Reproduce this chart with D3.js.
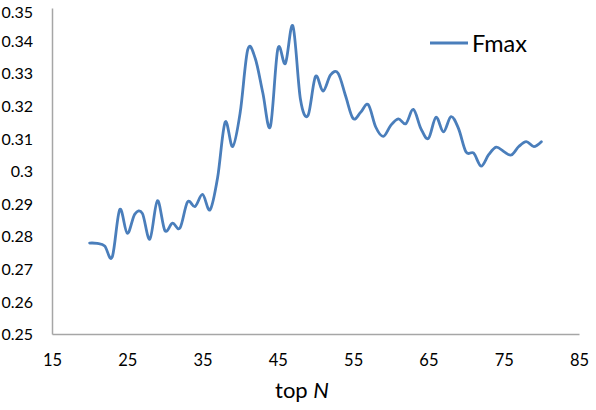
<!DOCTYPE html>
<html><head><meta charset="utf-8">
<script src="https://cdn.jsdelivr.net/npm/d3@7"></script>
<style>body{margin:0;background:#fff}svg{display:block}text{font-family:Lato,"Open Sans",sans-serif;fill:#000}</style>
</head><body><svg id="c" width="596" height="410"></svg>
<script>
const topN = [20,21,22,23,24,25,26,27,28,29,30,31,32,33,34,35,36,37,38,39,40,41,42,43,44,45,46,47,48,49,50,51,52,53,54,55,56,57,58,59,60,61,62,63,64,65,66,67,68,69,70,71,72,73,74,75,76,77,78,79,80];
const fmax = [0.2779,0.2778,0.2770,0.2736,0.2882,0.2809,0.2868,0.2870,0.2791,0.2909,
0.2817,0.2840,0.2825,0.2905,0.2891,0.2928,0.2881,0.2980,0.3150,0.3075,
0.3180,0.3372,0.3345,0.3240,0.3136,0.3375,0.3330,0.3445,0.3220,0.3170,
0.3290,0.3245,0.3295,0.3300,0.3230,0.3161,0.3180,0.3204,0.3135,0.3106,
0.3140,0.3160,0.3145,0.3189,0.3130,0.3100,0.3165,0.3120,0.3167,0.3130,
0.3058,0.3055,0.3015,0.3050,0.3073,0.3060,0.3049,0.3075,0.3090,0.3075,0.3090];
const xTicks = [15,25,35,45,55,65,75,85];
const yTicks = [0.25,0.26,0.27,0.28,0.29,0.3,0.31,0.32,0.33,0.34,0.35];
const seriesName = "Fmax";
const xTitle = "top ", xTitleItalic = "N";

const svg = d3.select("#c");
const x = d3.scaleLinear().domain([15,85]).range([52,579]);
const y = d3.scaleLinear().domain([0.25,0.35]).range([334,8]);

const yAxis = d3.axisLeft(y).tickValues(yTicks).tickSize(0).tickPadding(19).tickFormat(d=>String(+d.toFixed(2)));
const gy = svg.append("g").attr("transform","translate(52,0)").call(yAxis);
gy.select(".domain").attr("stroke","#a6a6a6").attr("stroke-width",1.5);
gy.selectAll("text").attr("font-size","16px").attr("font-family","Lato").attr("fill","#000")
  .attr("dy",d=>d>=0.35?"9px":"0.35em");

const xAxis = d3.axisBottom(x).tickValues(xTicks).tickSize(0).tickPadding(20);
const gx = svg.append("g").attr("transform","translate(0,334)").call(xAxis);
gx.select(".domain").attr("stroke","#a6a6a6").attr("stroke-width",1.5);
gx.selectAll("text").attr("font-size","16.5px").attr("font-family","Lato").attr("fill","#000");

const data = topN.map((n,i)=>({n, v: fmax[i]}));
const line = d3.line().x(d=>x(d.n)).y(d=>y(d.v)).curve(d3.curveCatmullRom.alpha(0));
svg.append("path").datum(data).attr("d",line).attr("fill","none")
  .attr("stroke","#4a7ebb").attr("stroke-width",2.8).attr("stroke-linejoin","round").attr("stroke-linecap","round");

// legend
svg.append("line").attr("x1",430).attr("x2",468).attr("y1",43).attr("y2",43)
  .attr("stroke","#4a7ebb").attr("stroke-width",2.8);
svg.append("text").attr("x",472).attr("y",52).attr("font-size","23.5px").text(seriesName);

// x title
const t = svg.append("text").attr("x",302).attr("y",398).attr("text-anchor","middle").attr("font-size","22px");
t.append("tspan").text(xTitle);
t.append("tspan").attr("font-style","italic").text(xTitleItalic);
</script></body></html>
